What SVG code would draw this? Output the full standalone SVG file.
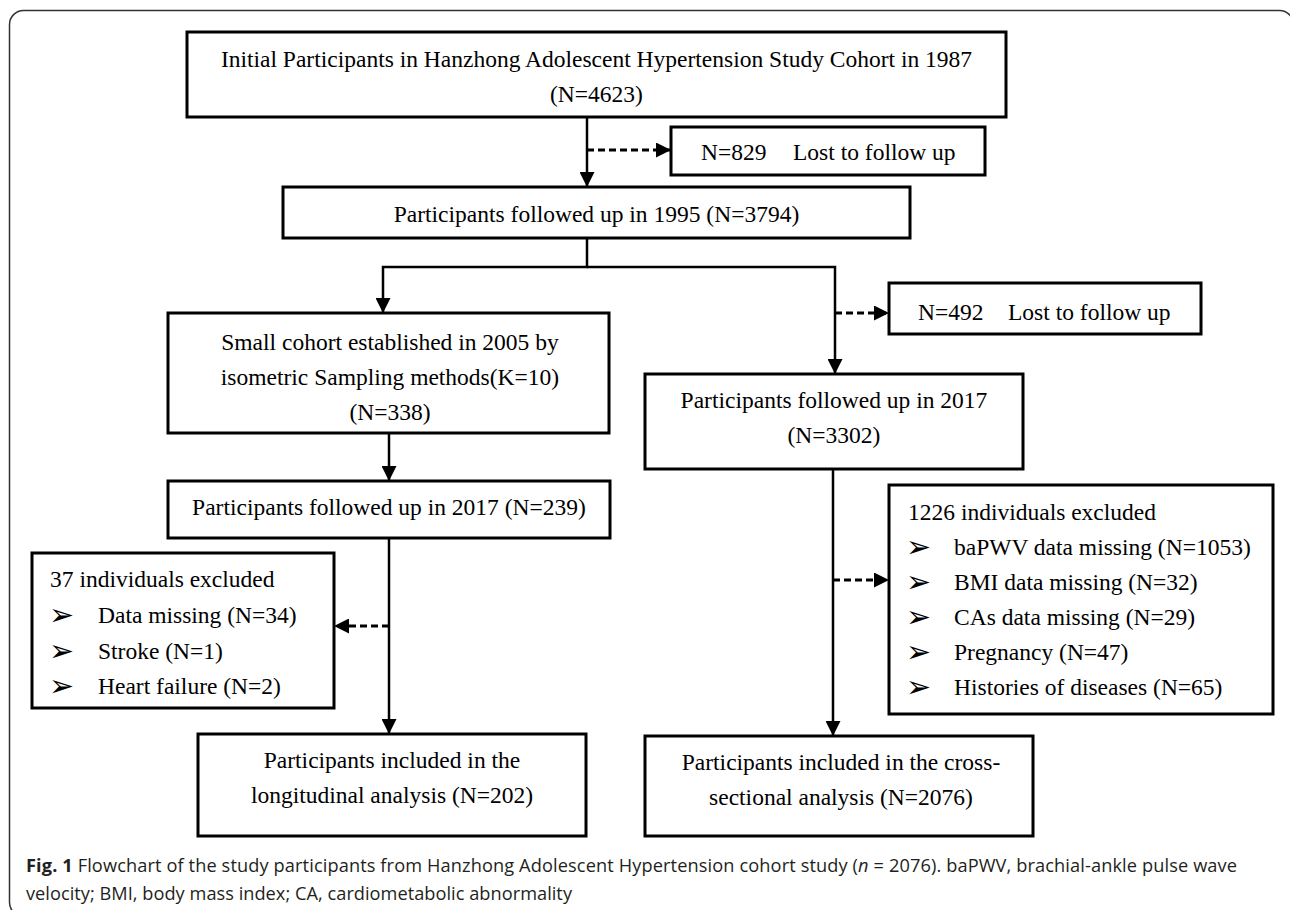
<svg xmlns="http://www.w3.org/2000/svg" width="1290" height="910" viewBox="0 0 1290 910">
<defs>
<style>
.box{fill:#fff;stroke:#000;stroke-width:3}
.t{font-family:"Liberation Serif","Times New Roman",serif;font-size:23.5px;fill:#000}
.c{text-anchor:middle}
.b{font-family:"DejaVu Sans",sans-serif;font-size:30px;fill:#000}
.ln{fill:none;stroke:#000;stroke-width:2.5}
.ds{fill:none;stroke:#000;stroke-width:2.8;stroke-dasharray:7 4}
.cap{font-family:"Open Sans","Noto Sans",sans-serif;font-size:18.2px;fill:#231f20}
</style>
<marker id="ah" markerUnits="userSpaceOnUse" markerWidth="15" markerHeight="15" viewBox="0 0 12 12" refX="12" refY="6" orient="auto">
<path d="M0,0 L12,6 L0,12 z" fill="#000"/>
</marker>
</defs>
<rect x="9.5" y="10.5" width="1284" height="906" rx="14" ry="14" fill="none" stroke="#333" stroke-width="1.5"/>

<g id="connectors">
<path class="ln" d="M587 117 V187" marker-end="url(#ah)"/>
<path class="ds" d="M587 150 H671" marker-end="url(#ah)"/>
<path class="ln" d="M587 238 V267 H383 V313" marker-end="url(#ah)"/>
<path class="ln" d="M587 267 H835 V374" marker-end="url(#ah)"/>
<path class="ds" d="M835 313 H889" marker-end="url(#ah)"/>
<path class="ln" d="M389 433 V481" marker-end="url(#ah)"/>
<path class="ln" d="M389 538 V734" marker-end="url(#ah)"/>
<path class="ds" d="M389 626 H334" marker-end="url(#ah)"/>
<path class="ln" d="M833 469 V736" marker-end="url(#ah)"/>
<path class="ds" d="M833 580 H889" marker-end="url(#ah)"/>
</g>

<g id="n1987">
<rect class="box" x="187" y="32" width="819" height="85"/>
<text class="t c" x="596.5" y="67">Initial Participants in Hanzhong Adolescent Hypertension Study Cohort in 1987</text>
<text class="t c" x="596.5" y="102">(N=4623)</text>
</g>

<g id="lost829">
<rect class="box" x="671" y="127" width="314" height="48"/>
<text class="t" x="701" y="160">N=829</text>
<text class="t" x="793" y="160">Lost to follow up</text>
</g>

<g id="n1995">
<rect class="box" x="283" y="187" width="627" height="51"/>
<text class="t c" x="596.5" y="222">Participants followed up in 1995 (N=3794)</text>
</g>

<g id="small">
<rect class="box" x="168" y="313" width="441" height="120"/>
<text class="t c" x="390" y="350">Small cohort established in 2005 by</text>
<text class="t c" x="390" y="385">isometric Sampling methods(K=10)</text>
<text class="t c" x="390" y="420">(N=338)</text>
</g>

<g id="lost492">
<rect class="box" x="889" y="283" width="312" height="51"/>
<text class="t" x="918" y="320">N=492</text>
<text class="t" x="1008" y="320">Lost to follow up</text>
</g>

<g id="n2017r">
<rect class="box" x="645" y="374" width="378" height="95"/>
<text class="t c" x="834" y="408">Participants followed up in 2017</text>
<text class="t c" x="834" y="443">(N=3302)</text>
</g>

<g id="n2017l">
<rect class="box" x="168" y="481" width="442" height="57"/>
<text class="t c" x="389" y="515">Participants followed up in 2017 (N=239)</text>
</g>

<g id="excl37">
<rect class="box" x="32" y="553" width="302" height="155"/>
<text class="t" x="50" y="587">37 individuals excluded</text>
<text class="b" x="49" y="625">➢</text><text class="t" x="98" y="623">Data missing (N=34)</text>
<text class="b" x="49" y="661">➢</text><text class="t" x="98" y="659">Stroke (N=1)</text>
<text class="b" x="49" y="696">➢</text><text class="t" x="98" y="694">Heart failure (N=2)</text>
</g>

<g id="excl1226">
<rect class="box" x="889" y="485" width="384" height="229"/>
<text class="t" x="908" y="520">1226 individuals excluded</text>
<text class="b" x="906" y="557">➢</text><text class="t" x="954" y="555">baPWV data missing (N=1053)</text>
<text class="b" x="906" y="592">➢</text><text class="t" x="954" y="590">BMI data missing (N=32)</text>
<text class="b" x="906" y="627">➢</text><text class="t" x="954" y="625">CAs data missing (N=29)</text>
<text class="b" x="906" y="662">➢</text><text class="t" x="954" y="660">Pregnancy (N=47)</text>
<text class="b" x="906" y="697">➢</text><text class="t" x="954" y="695">Histories of diseases (N=65)</text>
</g>

<g id="longit">
<rect class="box" x="198" y="734" width="388" height="102"/>
<text class="t c" x="392" y="768">Participants included in the</text>
<text class="t c" x="392" y="803">longitudinal analysis (N=202)</text>
</g>

<g id="cross">
<rect class="box" x="645" y="736" width="388" height="100"/>
<text class="t c" x="841" y="770">Participants included in the cross-</text>
<text class="t c" x="841" y="805">sectional analysis (N=2076)</text>
</g>

<g id="caption">
<text class="cap" x="26" y="872" textLength="1211" lengthAdjust="spacing"><tspan font-weight="bold">Fig. 1</tspan> Flowchart of the study participants from Hanzhong Adolescent Hypertension cohort study (<tspan font-style="italic">n</tspan> = 2076). baPWV, brachial-ankle pulse wave</text>
<text class="cap" x="26" y="900" textLength="546" lengthAdjust="spacing">velocity; BMI, body mass index; CA, cardiometabolic abnormality</text>
</g>
</svg>
